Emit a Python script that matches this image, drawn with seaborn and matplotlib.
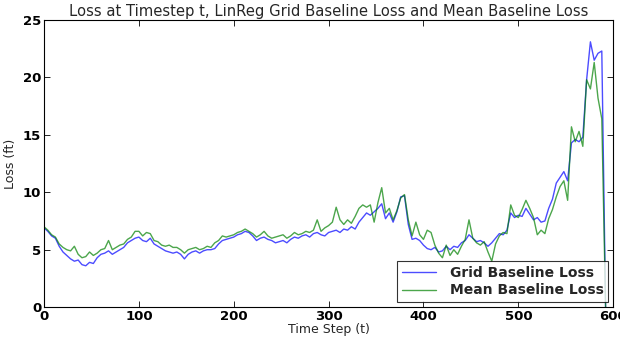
import matplotlib
matplotlib.use("Agg")
import matplotlib.pyplot as plt
import seaborn as sns
import pandas as pd

time_steps = list(range(0, 592, 4)) + [592]

grid_loss = [
    6.9, 6.6, 6.2, 6.0, 5.3, 4.8, 4.5, 4.2, 4.0, 4.1,
    3.7, 3.6, 3.9, 3.8, 4.3, 4.6, 4.7, 4.9, 4.6, 4.8,
    5.0, 5.2, 5.6, 5.8, 6.0, 6.1, 5.8, 5.7, 6.0, 5.5,
    5.3, 5.1, 4.9, 4.8, 4.7, 4.8, 4.6, 4.2, 4.6, 4.8,
    4.9, 4.7, 4.9, 5.0, 5.0, 5.1, 5.5, 5.8, 5.9, 6.0,
    6.1, 6.3, 6.4, 6.6, 6.5, 6.2, 5.8, 6.0, 6.1, 5.9,
    5.8, 5.6, 5.7, 5.8, 5.6, 5.9, 6.1, 6.0, 6.2, 6.3,
    6.1, 6.4, 6.5, 6.3, 6.2, 6.5, 6.6, 6.7, 6.5, 6.8,
    6.7, 7.0, 6.8, 7.4, 7.8, 8.2, 8.0, 8.3, 8.6, 9.0,
    7.7, 8.2, 7.4, 8.3, 9.6, 9.7, 7.2, 5.9, 6.0, 5.8,
    5.4, 5.1, 5.0, 5.2, 4.8, 4.9, 5.3, 5.0, 5.3, 5.2,
    5.6, 5.8, 6.3, 6.0, 5.7, 5.8, 5.6, 5.3, 5.6, 6.0,
    6.4, 6.3, 6.7, 8.2, 7.8, 8.0, 7.9, 8.6, 8.1, 7.6,
    7.8, 7.4, 7.5, 8.6, 9.4, 10.8, 11.3, 11.8, 11.0, 14.3,
    14.6, 14.4, 14.8, 19.8, 23.1, 21.5, 22.1, 22.3, 0.0,
]

mean_loss = [
    7.0, 6.7, 6.3, 6.1, 5.5, 5.2, 5.0, 4.9, 5.3, 4.6,
    4.3, 4.4, 4.8, 4.5, 4.7, 5.0, 5.1, 5.8, 5.0, 5.2,
    5.4, 5.5, 5.9, 6.1, 6.6, 6.6, 6.2, 6.5, 6.4, 5.8,
    5.7, 5.4, 5.3, 5.4, 5.2, 5.2, 5.0, 4.7, 5.0, 5.1,
    5.2, 5.0, 5.1, 5.3, 5.2, 5.6, 5.8, 6.2, 6.1, 6.2,
    6.3, 6.5, 6.6, 6.8, 6.6, 6.4, 6.1, 6.3, 6.6, 6.2,
    6.0, 6.1, 6.2, 6.3, 6.0, 6.2, 6.5, 6.3, 6.4, 6.6,
    6.5, 6.7, 7.6, 6.6, 6.9, 7.1, 7.4, 8.7, 7.6, 7.2,
    7.6, 7.3, 7.9, 8.6, 8.9, 8.7, 8.9, 7.4, 9.1, 10.4,
    8.2, 8.6, 7.6, 8.4, 9.5, 9.8, 7.6, 6.2, 7.4, 6.3,
    5.9, 6.7, 6.5, 5.4, 4.7, 4.3, 5.4, 4.5, 5.0, 4.6,
    5.3, 5.9, 7.6, 6.0, 5.6, 5.4, 5.7, 4.8, 4.0, 5.5,
    6.2, 6.5, 6.4, 8.9, 8.0, 7.8, 8.5, 9.3, 8.6, 7.8,
    6.3, 6.7, 6.4, 7.7, 8.5, 9.6, 10.5, 11.0, 9.3, 15.7,
    14.4, 15.3, 14.0, 19.8, 19.0, 21.3, 18.2, 16.4, 0.0,
]

series_names = ["Grid Baseline Loss", "Mean Baseline Loss"]
x_ticks = [0, 100, 200, 300, 400, 500, 600]
y_ticks = [0, 5, 10, 15, 20, 25]

sns.set_style("white")
plt.rcParams["font.family"] = ["DejaVu Sans"]
plt.rcParams["xtick.direction"] = "in"
plt.rcParams["ytick.direction"] = "in"

df = pd.DataFrame({
    "t": time_steps * 2,
    "loss": grid_loss + mean_loss,
    "series": [series_names[0]] * len(time_steps) + [series_names[1]] * len(time_steps),
})

fig = plt.figure(figsize=(6.2, 3.39), dpi=100)
ax = fig.add_axes([0.071, 0.094, 0.918, 0.847])

sns.lineplot(data=df, x="t", y="loss", hue="series",
             palette=["#0000ff", "#008000"], linewidth=1.0, alpha=0.7,
             ax=ax, legend=True)

ax.set_xlim(0, 600)
ax.set_ylim(0, 25)
ax.set_xticks(x_ticks)
ax.set_yticks(y_ticks)
ax.set_xticklabels([str(v) for v in x_ticks], fontweight="bold", fontsize=9.5)
ax.set_yticklabels([str(v) for v in y_ticks], fontweight="bold", fontsize=9.5)
ax.tick_params(axis="both", which="both", direction="in", length=4, width=0.6,
               top=True, right=True, bottom=True, left=True, pad=2, colors="black")
for s in ax.spines.values():
    s.set_visible(True)
    s.set_color("black")
    s.set_linewidth(0.8)

ax.set_xlabel("Time Step (t)", fontsize=9, labelpad=0)
ax.set_ylabel("Loss (ft)", fontsize=9, labelpad=4)
ax.set_title("Loss at Timestep t, LinReg Grid Baseline Loss and Mean Baseline Loss",
             fontsize=10.6, pad=3)

leg = ax.legend(loc="lower right", prop={"weight": "bold", "size": 10},
                frameon=True, fancybox=False, borderaxespad=0.35,
                handlelength=2.4, handletextpad=1.0, labelspacing=0.25, borderpad=0.35)
leg.get_frame().set_edgecolor("black")
leg.get_frame().set_linewidth(0.8)

fig.savefig("out.png", dpi=100, facecolor="white")
